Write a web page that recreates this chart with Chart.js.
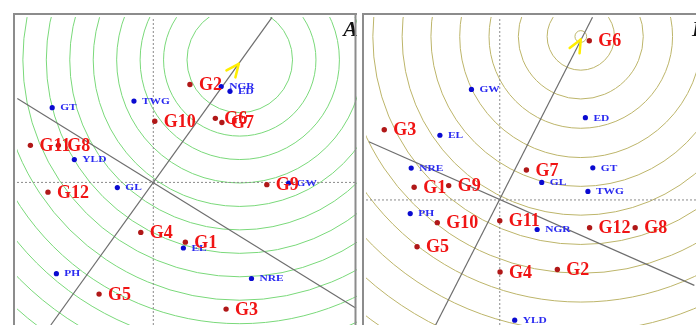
<!DOCTYPE html>
<html><head><meta charset="utf-8">
<script src="https://cdn.jsdelivr.net/npm/chart.js@4.4.0/dist/chart.umd.min.js"></script>
<style>
html,body{margin:0;padding:0;background:#fff;width:700px;height:329px;overflow:hidden;position:relative}
canvas{position:absolute}
#cA{left:13px;top:13px}
#cB{left:362px;top:13px}
</style></head><body>
<canvas id="cA" width="348" height="316"></canvas>
<canvas id="cB" width="338" height="316"></canvas>
<script>
// ---------- data (biplot scores) ----------
const genoNames = ['G1','G2','G3','G4','G5','G6','G7','G8','G9','G10','G11','G12'];
const envNames  = ['GT','TWG','NGR','ED','YLD','GL','GW','EL','PH','NRE'];

// Panel A
const genoA_pc1 = [3.28, 3.75, 7.45, -1.28, -5.55, 6.35, 7.02, -9.72, 11.62, 0.15, -12.58, -10.78];
const genoA_pc2 = [-6.13, 10.04, -13.0, -5.13, -11.46, 6.57, 6.14, 3.80, -0.23, 6.27, 3.80, -1.0];
const envA_pc1  = [-10.35, -1.98, 6.95, 7.85, -8.08, -3.68, 13.85, 3.08, -9.92, 10.05];
const envA_pc2  = [7.67, 8.34, 9.84, 9.34, 2.34, -0.53, -0.06, -6.73, -9.36, -9.86];
const aecA_x  = [-10.49, 12.15], aecA_y  = [-14.63, 16.94];
const perpA_x = [-13.92, 20.75], perpA_y = [8.6, -12.9];
const ringCenterA = [8.85, 12.57];
const ringRadiiA  = [5.4, 7.8, 10.2, 12.6, 15.0, 17.4, 19.8, 22.2, 24.6, 27.0, 29.4, 31.8, 34.2, 36.6];
const arrowA = [8.75, 12.17];

// Panel B
const genoB_pc1 = [-8.77, 5.90, -11.83, 0.03, -8.47, 9.17, 2.73, 13.87, -5.23, -6.40, 0.0, 9.20];
const genoB_pc2 = [1.30, -7.13, 7.20, -7.40, -4.80, 16.34, 3.07, -2.86, 1.47, -2.33, -2.13, -2.86];
const envB_pc1  = [9.53, 9.03, 3.83, 8.77, 1.53, 4.30, -2.90, -6.13, -9.17, -9.07];
const envB_pc2  = [3.30, 0.87, -3.03, 8.44, -12.33, 1.80, 11.34, 6.64, -1.40, 3.27];
const aecB_x  = [-6.57, 9.5], aecB_y  = [-12.83, 18.74];
const perpB_x = [-13.4, 19.93], perpB_y = [5.97, -8.76];
const ringCenterB = [8.3, 16.77];
const ringRadiiB  = [0.6, 3.45, 6.4, 9.4, 12.4, 15.35, 18.3, 21.3, 24.25, 27.2, 30.2, 33.1, 36.1, 39.0, 42.0];
const arrowB = [8.3, 16.47];

// ---------- helpers ----------
const pts = (xs, ys) => xs.map((v, i) => ({x: v, y: ys[i]}));

const biplotPlugin = {
  id: 'biplot',
  beforeDatasetsDraw(chart, args, o) {
    const {ctx, chartArea: a, scales: {x, y}} = chart;
    ctx.save();
    ctx.beginPath(); ctx.rect(a.left, a.top, a.right - a.left, a.bottom - a.top); ctx.clip();
    const cx = x.getPixelForValue(o.center[0]), cy = y.getPixelForValue(o.center[1]);
    const unit = x.getPixelForValue(1) - x.getPixelForValue(0);
    ctx.strokeStyle = o.ringColor; ctx.lineWidth = 1;
    o.radii.forEach(r => { ctx.beginPath(); ctx.arc(cx, cy, r * unit, 0, Math.PI * 2); ctx.stroke(); });
    ctx.restore();
  },
  afterDatasetsDraw(chart, args, o) {
    const {ctx, chartArea: a, scales: {x, y}} = chart;
    ctx.save();
    ctx.beginPath(); ctx.rect(a.left, a.top, a.right - a.left, a.bottom - a.top); ctx.clip();
    // environment labels
    ctx.fillStyle = '#2a2af0'; ctx.textBaseline = 'middle'; ctx.textAlign = 'left';
    envNames.forEach((n, i) => {
      const px = x.getPixelForValue(o.env1[i]), py = y.getPixelForValue(o.env2[i]);
      ctx.save(); ctx.translate(px + 8, py + 0.5); ctx.scale(1.27, 1);
      ctx.font = 'bold 9px "Liberation Serif"'; ctx.fillText(n, 0, 0); ctx.restore();
    });
    // genotype labels
    ctx.fillStyle = '#f01414'; ctx.font = 'bold 18px "Liberation Serif"';
    genoNames.forEach((n, i) => {
      const px = x.getPixelForValue(o.geno1[i]), py = y.getPixelForValue(o.geno2[i]);
      ctx.fillText(n, px + 9, py + 1);
    });
    // arrow
    const ox = x.getPixelForValue(0), oy = y.getPixelForValue(0);
    const tx = x.getPixelForValue(o.arrow[0]), ty = y.getPixelForValue(o.arrow[1]);
    const ang = Math.atan2(oy - ty, ox - tx);
    ctx.strokeStyle = '#ffee00'; ctx.lineWidth = 2.5; ctx.lineCap = 'round';
    [0.45, -0.38].forEach(d => {
      ctx.beginPath(); ctx.moveTo(tx, ty);
      ctx.lineTo(tx + 14 * Math.cos(ang + d), ty + 14 * Math.sin(ang + d)); ctx.stroke();
    });
    // panel letter
    ctx.fillStyle = '#111'; ctx.font = 'italic bold 22px "Liberation Serif"';
    ctx.textBaseline = 'alphabetic';
    ctx.textAlign = o.letterAlign;
    ctx.fillText(o.letter, o.letterX, 23);
    ctx.restore();
    // borders
    ctx.save(); ctx.strokeStyle = '#8c8c8c'; ctx.lineWidth = 2;
    ctx.beginPath();
    ctx.moveTo(1, a.bottom); ctx.lineTo(1, 1); ctx.lineTo(a.right, 1);
    if (o.rightBorder) { ctx.moveTo(a.right - 1.5, 1); ctx.lineTo(a.right - 1.5, a.bottom); }
    ctx.stroke(); ctx.restore();
  }
};

function makeChart(id, cfg) {
  return new Chart(document.getElementById(id), {
    type: 'scatter',
    data: {
      datasets: [
        {data: pts(cfg.g1, cfg.g2), pointRadius: 2.7, pointBorderWidth: 0, backgroundColor: '#b01818', order: 0},
        {data: pts(cfg.e1, cfg.e2), pointRadius: 2.6, pointBorderWidth: 0, backgroundColor: '#0a0ad0', order: 0},
        {data: pts(cfg.aecX, cfg.aecY), showLine: true, pointRadius: 0, borderColor: '#6e6e6e', borderWidth: 1.2, order: 1},
        {data: pts(cfg.perpX, cfg.perpY), showLine: true, pointRadius: 0, borderColor: '#6e6e6e', borderWidth: 1.2, order: 1},
        {data: [{x: cfg.xmin, y: 0}, {x: cfg.xmax, y: 0}], showLine: true, pointRadius: 0, borderColor: '#8a8a8a', borderWidth: 1, borderDash: [2, 2], order: 2},
        {data: [{x: 0, y: cfg.ymin}, {x: 0, y: cfg.ymax}], showLine: true, pointRadius: 0, borderColor: '#8a8a8a', borderWidth: 1, borderDash: [2, 2], order: 2}
      ]
    },
    options: {
      responsive: false, animation: false, devicePixelRatio: 1,
      layout: {padding: 0},
      scales: {
        x: {type: 'linear', min: cfg.xmin, max: cfg.xmax, display: false},
        y: {type: 'linear', min: cfg.ymin, max: cfg.ymax, display: false}
      },
      plugins: {
        legend: {display: false}, tooltip: {enabled: false},
        biplot: {
          center: cfg.center, radii: cfg.radii, ringColor: cfg.ringColor,
          geno1: cfg.g1, geno2: cfg.g2, env1: cfg.e1, env2: cfg.e2,
          arrow: cfg.arrow, letter: cfg.letter, letterX: cfg.letterX, letterAlign: cfg.letterAlign,
          rightBorder: cfg.rightBorder
        }
      }
    },
    plugins: [biplotPlugin]
  });
}

makeChart('cA', {
  g1: genoA_pc1, g2: genoA_pc2, e1: envA_pc1, e2: envA_pc2,
  aecX: aecA_x, aecY: aecA_y, perpX: perpA_x, perpY: perpA_y,
  xmin: -13.95, xmax: 20.85, ymin: -14.63, ymax: 16.97,
  center: ringCenterA, radii: ringRadiiA, ringColor: '#7ad97a',
  arrow: arrowA, letter: 'A', letterX: 345, letterAlign: 'right', rightBorder: true
});
makeChart('cB', {
  g1: genoB_pc1, g2: genoB_pc2, e1: envB_pc1, e2: envB_pc2,
  aecX: aecB_x, aecY: aecB_y, perpX: perpB_x, perpY: perpB_y,
  xmin: -13.7, xmax: 20.1, ymin: -12.83, ymax: 18.77,
  center: ringCenterB, radii: ringRadiiB, ringColor: '#bdb56a',
  arrow: arrowB, letter: 'B', letterX: 330, letterAlign: 'left', rightBorder: false
});
</script></body></html>
